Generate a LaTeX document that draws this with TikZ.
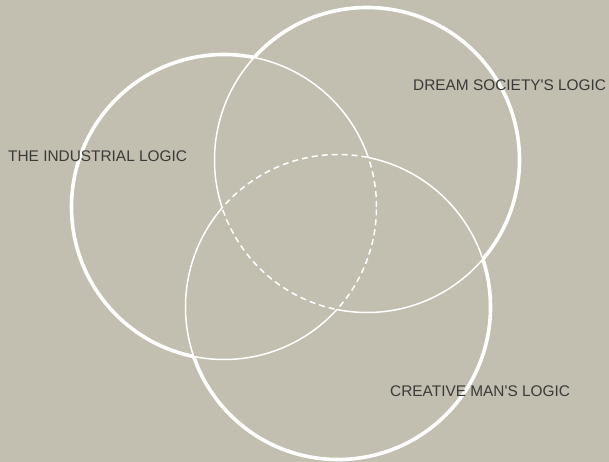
\documentclass[tikz,border=0pt]{standalone}
\usepackage{fontspec}
\setmainfont{Liberation Sans}
\definecolor{bgtan}{HTML}{C2BEB0}
\definecolor{labelgray}{HTML}{3A3A38}
\newcommand\vennR{152.5pt}
% Clip to the outside of circle #1 (frame minus the disc, even-odd rule
% set on the enclosing scope).
\newcommand\vennoutside[1]{%
  \clip (-20,-20) rectangle (630,480) (#1) circle (\vennR);}
% Draws one circle in three weights: thick outside both other circles,
% thin inside exactly one of them, dashed inside both.
\newcommand\vennpieces[3]{%
  \begin{scope}[even odd rule]
    \vennoutside{#2}
    \vennoutside{#3}
    \draw[outerarc] (#1) circle (\vennR);
  \end{scope}
  \begin{scope}[even odd rule]
    \clip (#2) circle (\vennR);
    \vennoutside{#3}
    \draw[innerarc] (#1) circle (\vennR);
  \end{scope}
  \begin{scope}[even odd rule]
    \clip (#3) circle (\vennR);
    \vennoutside{#2}
    \draw[innerarc] (#1) circle (\vennR);
  \end{scope}
  \begin{scope}
    \clip (#2) circle (\vennR);
    \clip (#3) circle (\vennR);
    \draw[corearc] (#1) circle (\vennR);
  \end{scope}}
\begin{document}
\begin{tikzpicture}[x=1pt,y=-1pt,
  outerarc/.style={draw=white,line width=3.6pt},
  innerarc/.style={draw=white,line width=1.5pt},
  corearc/.style={draw=white,line width=1.5pt,dash pattern=on 6pt off 4pt},
  logiclabel/.style={font=\fontsize{15.4}{18}\selectfont,text=labelgray,
    inner sep=0pt,anchor=base west}]
  % canvas
  \fill[bgtan] (0,0) rectangle (609,462);
  \useasboundingbox (0,0) rectangle (609,462);
  % circle centres
  \coordinate (industrial) at (224,207);
  \coordinate (dream) at (367,160);
  \coordinate (creative) at (338,307);
  % circles
  \vennpieces{industrial}{dream}{creative}
  \vennpieces{dream}{industrial}{creative}
  \vennpieces{creative}{industrial}{dream}
  % labels
  \node[logiclabel] (lblind) at (8,161.7) {THE INDUSTRIAL LOGIC};
  \node[logiclabel] (lbldream) at (413,90.7) {DREAM SOCIETY\textquotesingle S LOGIC};
  \node[logiclabel] (lblcreative) at (390,396) {CREATIVE MAN\textquotesingle S LOGIC};
\end{tikzpicture}
\end{document}
